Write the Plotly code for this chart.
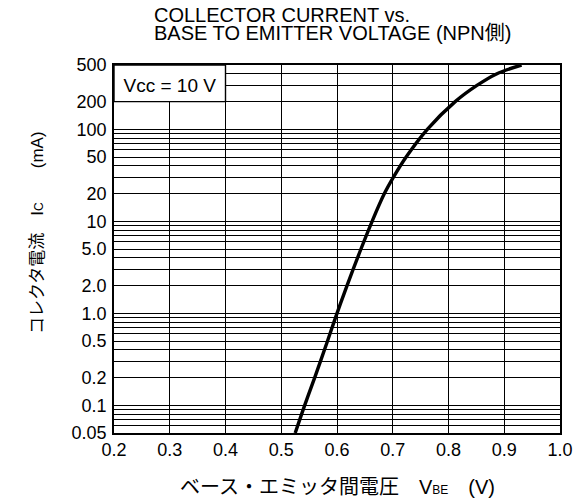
import plotly.graph_objects as go

# Curve: base-emitter voltage (V) vs collector current (mA)
vbe = [0.525, 0.542, 0.560, 0.583, 0.600, 0.618, 0.643, 0.663, 0.685, 0.701, 0.724, 0.762, 0.812, 0.851, 0.886, 0.931]
ic = [0.05, 0.1, 0.2, 0.5, 1.0, 2.0, 5.0, 10, 20, 30, 50, 100, 200, 300, 400, 500]

x_ticks = [0.2, 0.3, 0.4, 0.5, 0.6, 0.7, 0.8, 0.9, 1.0]
x_ticktext = ["0.2", "0.3", "0.4", "0.5", "0.6", "0.7", "0.8", "0.9", "1.0"]
y_ticks = [0.05, 0.1, 0.2, 0.5, 1, 2, 5, 10, 20, 50, 100, 200, 500]
y_ticktext = ["0.05", "0.1", "0.2", "0.5", "1.0", "2.0", "5.0", "10", "20", "50", "100", "200", "500"]
y_grid = [m * 10 ** e for e in range(-2, 3) for m in range(1, 10) if 0.05 <= m * 10 ** e <= 500]

FONT = "Liberation Sans, Arial, Noto Sans CJK JP"
W, H = 586, 504
L, R, T, B = 114, 26, 65, 71
pw, ph = W - L - R, H - T - B

def px(xp):
    return (xp - L) / pw

def py(yp):
    return (H - B - yp) / ph

fig = go.Figure()
fig.add_trace(go.Scatter(x=vbe, y=ic, mode="lines",
                         line=dict(color="black", width=3.4, shape="spline", smoothing=1.0),
                         showlegend=False, hoverinfo="skip"))

fig.update_layout(
    width=W, height=H,
    margin=dict(l=L, r=R, t=T, b=B),
    paper_bgcolor="white", plot_bgcolor="white",
    font=dict(family=FONT, color="black", size=16),
    xaxis=dict(range=[0.2, 1.0], tickvals=x_ticks, ticktext=x_ticktext,
               showgrid=True, gridcolor="black", gridwidth=1.4,
               showline=True, linecolor="black", linewidth=1.6, mirror=True,
               ticks="", zeroline=False, tickfont=dict(size=18, family=FONT)),
    yaxis=dict(type="log", range=[-1.30103, 2.69897], tickvals=y_ticks, ticktext=y_ticktext,
               showgrid=True, gridcolor="black", gridwidth=1.4,
               minor=dict(tickvals=y_grid, showgrid=True, gridcolor="black", gridwidth=1.1, ticks=""),
               showline=True, linecolor="black", linewidth=1.6, mirror=True,
               ticks="", zeroline=False, tickfont=dict(size=18, family=FONT), ticklabelstandoff=2),
)

fig.add_shape(type="rect", xref="x", yref="y", x0=0.2, x1=0.4, y0=200, y1=500,
              fillcolor="white", line=dict(color="black", width=1.4), layer="above",
              label=dict(text="Vcc = 10 V", font=dict(size=19, family=FONT),
                         textposition="middle center"))

fig.add_annotation(text="COLLECTOR CURRENT vs.", xref="paper", yref="paper",
                   x=px(152), y=py(14.5), xanchor="left", yanchor="middle",
                   showarrow=False, font=dict(size=20, family=FONT))
fig.add_annotation(text="BASE TO EMITTER VOLTAGE (NPN側)", xref="paper", yref="paper",
                   x=px(152), y=py(33), xanchor="left", yanchor="middle",
                   showarrow=False, font=dict(size=20, family=FONT))
fig.add_annotation(text="コレクタ電流　I<span style='font-size:12px'>C</span>　　(mA)",
                   xref="paper", yref="paper", x=px(37), y=py(233),
                   xanchor="center", yanchor="middle", textangle=-90,
                   showarrow=False, font=dict(size=17, family=FONT))
fig.add_annotation(text="ベース・エミッタ間電圧　V<span style='font-size:12px'>BE</span>　(V)",
                   xref="paper", yref="paper", x=px(337), y=py(487),
                   xanchor="center", yanchor="middle",
                   showarrow=False, font=dict(size=20, family=FONT))

fig.write_html("out.html", config={"displayModeBar": False},
               post_script="document.body.style.margin='0';")
